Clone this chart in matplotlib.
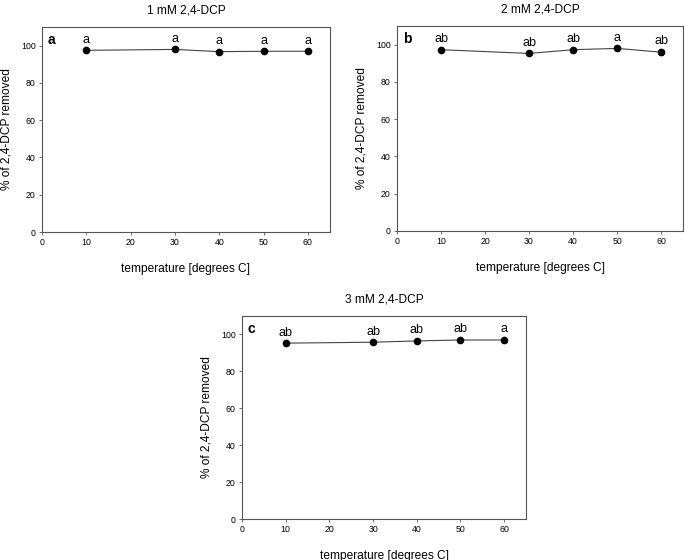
import matplotlib
matplotlib.use("Agg")
import matplotlib.pyplot as plt

plt.rcParams['font.family'] = ['Liberation Sans', 'DejaVu Sans']

temps = [10, 30, 40, 50, 60]

vals_a = [97.5, 98.0, 96.8, 97.0, 97.0]
err_a = [0.3, 0.3, 1.0, 0.3, 0.3]
lab_a = ["a", "a", "a", "a", "a"]

vals_b = [97.3, 95.3, 97.3, 98.0, 96.0]
err_b = [0.3, 0.4, 0.4, 0.3, 1.6]
lab_b = ["ab", "ab", "ab", "a", "ab"]

vals_c = [95.3, 95.8, 96.5, 97.0, 97.0]
err_c = [0.3, 0.4, 0.3, 0.3, 0.3]
lab_c = ["ab", "ab", "ab", "ab", "a"]

titles = ["1 mM 2,4-DCP", "2 mM 2,4-DCP", "3 mM 2,4-DCP"]
panels = ["a", "b", "c"]
xticks = [0, 10, 20, 30, 40, 50, 60]
yticks = [0, 20, 40, 60, 80, 100]

fig = plt.figure(figsize=(6.85, 5.6), dpi=100)
positions = [
    [0.0613, 0.5857, 0.4204, 0.366],
    [0.5796, 0.5875, 0.4175, 0.366],
    [0.3533, 0.0732, 0.4146, 0.3625],
]

data = [(vals_a, err_a, lab_a), (vals_b, err_b, lab_b), (vals_c, err_c, lab_c)]
frame = "#555555"

for pos, (v, e, labs), title, pl in zip(positions, data, titles, panels):
    ax = fig.add_axes(pos)
    ax.errorbar(temps, v, yerr=e, color="#444444", ecolor="black", elinewidth=0.8,
                capsize=1.5, capthick=0.8, marker="o", markersize=4.5,
                linewidth=0.8, mfc="black", mec="black")
    for t, y, lb in zip(temps, v, labs):
        ax.text(t, y + 2.5, lb, ha="center", va="bottom", fontsize=9)
    ax.text(0.02, 0.97, pl, transform=ax.transAxes, ha="left", va="top",
            fontsize=10, fontweight="bold")
    ax.set_xlim(0, 65)
    ax.set_ylim(0, 110)
    ax.set_xticks(xticks)
    ax.set_yticks(yticks)
    ax.tick_params(labelsize=6.3, length=2.5, width=0.6, color=frame, pad=2)
    for s in ax.spines.values():
        s.set_color(frame)
        s.set_linewidth(0.8)
    ax.set_xlabel("temperature [degrees C]", fontsize=8.6, labelpad=11)
    ax.set_ylabel("% of 2,4-DCP removed", fontsize=8.6, labelpad=6)
    ax.set_title(title, fontsize=8.6, pad=10)

fig.savefig("out.png", dpi=100)
